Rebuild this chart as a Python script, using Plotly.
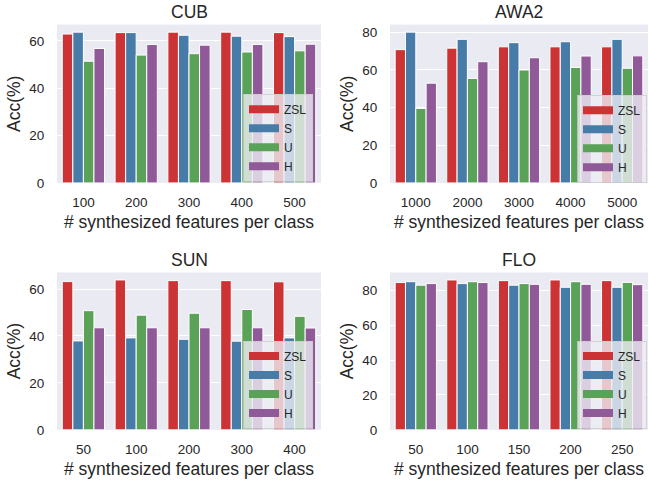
import plotly.graph_objects as go

W, H = 649, 487

series = ["ZSL", "S", "U", "H"]
colors = ["#CB3335", "#477CA8", "#59A257", "#905998"]

cub_x = ["100", "200", "300", "400", "500"]
cub_zsl = [62.9, 63.5, 63.7, 63.7, 63.5]
cub_s = [63.7, 63.5, 62.4, 62.0, 61.8]
cub_u = [51.4, 54.0, 54.6, 55.3, 55.8]
cub_h = [56.8, 58.5, 58.2, 58.5, 58.6]

awa2_x = ["1000", "2000", "3000", "4000", "5000"]
awa2_zsl = [70.8, 71.6, 72.3, 72.3, 72.3]
awa2_s = [80.1, 76.3, 74.5, 75.0, 76.3]
awa2_u = [39.6, 55.5, 60.0, 61.3, 60.9]
awa2_h = [53.0, 64.4, 66.5, 67.4, 67.5]

sun_x = ["50", "100", "200", "300", "400"]
sun_zsl = [63.2, 63.9, 63.6, 63.6, 63.1]
sun_s = [37.9, 39.2, 38.6, 37.8, 39.2]
sun_u = [50.8, 48.9, 49.7, 51.3, 48.4]
sun_h = [43.5, 43.5, 43.5, 43.5, 43.4]

flo_x = ["50", "100", "150", "200", "250"]
flo_zsl = [84.5, 86.0, 85.6, 86.0, 85.6]
flo_s = [85.0, 83.9, 83.0, 81.8, 81.8]
flo_u = [83.0, 85.0, 83.9, 85.0, 84.6]
flo_h = [83.9, 84.5, 83.5, 83.5, 83.3]

panels = [
    ("CUB", cub_x, [cub_zsl, cub_s, cub_u, cub_h]),
    ("AWA2", awa2_x, [awa2_zsl, awa2_s, awa2_u, awa2_h]),
    ("SUN", sun_x, [sun_zsl, sun_s, sun_u, sun_h]),
    ("FLO", flo_x, [flo_zsl, flo_s, flo_u, flo_h]),
]

# pixel boxes of the four plot areas (left, right, top, bottom)
boxes = [(57, 321, 25, 186), (390, 648, 25, 186), (57, 321, 277, 437), (390, 648, 277, 437)]
# legend box: left, vertical centre (px)
legend_pos = [(243, 140), (577, 141), (243, 391), (577, 391)]

TXT = "#262626"
FONT = "Liberation Sans, Arial, sans-serif"

fig = go.Figure()
layout = dict(
    width=W, height=H, margin=dict(l=0, r=0, t=0, b=0),
    paper_bgcolor="white", plot_bgcolor="#EAEAF2",
    barmode="group", bargap=0.2, bargroupgap=0,
    font=dict(family=FONT, color=TXT),
    annotations=[],
)

for i, (name, cats, vals) in enumerate(panels):
    k = "" if i == 0 else str(i + 1)
    xa, ya = "x" + k, "y" + k
    leg = "legend" if i == 0 else "legend" + str(i + 1)
    for s, c, v in zip(series, colors, vals):
        fig.add_trace(go.Bar(
            x=cats, y=v, name=s, marker=dict(color=c, line=dict(color="white", width=1)),
            xaxis=xa, yaxis=ya, showlegend=False, offsetgroup=s,
        ))
    for s, c in zip(series, colors):
        fig.add_trace(go.Scatter(
            x=[None], y=[None], mode="lines", name=s, line=dict(color=c, width=8),
            xaxis=xa, yaxis=ya, legend=leg, showlegend=True,
        ))
    l, r, t, b = boxes[i]
    ymax = max(max(v) for v in vals) * 1.05
    layout["xaxis" + k] = dict(
        domain=[l / W, r / W], anchor=ya, type="category", range=[-0.5, 4.5],
        showgrid=False, zeroline=False, showline=False,
        ticks="outside", ticklen=7, tickcolor="rgba(0,0,0,0)",
        tickfont=dict(size=13.5, color=TXT),
        title=dict(text="# synthesized features per class", font=dict(size=17.5, color=TXT), standoff=6),
    )
    layout["yaxis" + k] = dict(
        domain=[1 - b / H, 1 - t / H], anchor=xa, range=[0, ymax],
        showgrid=True, gridcolor="white", gridwidth=1.2, zeroline=False, showline=False,
        dtick=20,
        ticks="outside", ticklen=9, tickcolor="rgba(0,0,0,0)",
        tickfont=dict(size=13.5, color=TXT),
        title=dict(text="Acc(%)", font=dict(size=17.5, color=TXT), standoff=4),
    )
    lx, lc = legend_pos[i]
    layout[leg] = dict(
        x=lx / W, y=1 - lc / H, xanchor="left", yanchor="middle",
        bgcolor="rgba(236,236,242,0.8)", bordercolor="rgba(204,204,204,0.8)", borderwidth=1,
        font=dict(size=12, color=TXT), tracegroupgap=0, itemwidth=30,
    )
    layout["annotations"].append(dict(
        text=name, x=(l + r) / 2 / W, y=1 - (t - 12.3) / H, xref="paper", yref="paper",
        xanchor="center", yanchor="middle", showarrow=False,
        font=dict(size=17.5, color=TXT),
    ))

fig.update_layout(**layout)
fig.write_html("out.html")
